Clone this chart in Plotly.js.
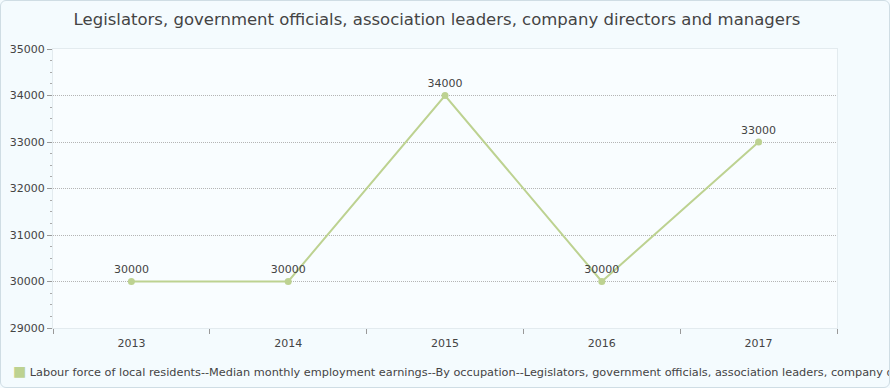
<!DOCTYPE html>
<html>
<head>
<meta charset="utf-8">
<script src="https://cdn.plot.ly/plotly-3.0.1.min.js"></script>
<style>
  html, body { margin: 0; padding: 0; background: #ffffff; }
  #wrap { position: relative; width: 890px; height: 388px; }
  #chart { width: 890px; height: 388px; }
  #frame { position: absolute; left: 0; top: 0; width: 888px; height: 386px; border: 1px solid #cfdde4; border-radius: 6px; pointer-events: none; }
</style>
</head>
<body>
<div id="wrap">
  <div id="chart"></div>
  <div id="frame"></div>
</div>
<script>
const years = ["2013", "2014", "2015", "2016", "2017"];
const earnings = [30000, 30000, 34000, 30000, 33000];
const seriesName = "Labour force of local residents--Median monthly employment earnings--By occupation--Legislators, government officials, association leaders, company directors and managers";
const chartTitle = "Legislators, government officials, association leaders, company directors and managers";
const lineColor = "#bdd291";
const textColor = "#444444";
const fontFamily = "DejaVu Sans, Verdana, sans-serif";

const traces = [
  {
    type: "scatter",
    mode: "lines+markers+text",
    x: years,
    y: earnings,
    name: seriesName,
    text: earnings.map(String),
    textposition: "top center",
    textfont: { family: fontFamily, size: 11, color: textColor },
    line: { color: lineColor, width: 2 },
    marker: { color: lineColor, size: 7 },
    showlegend: false,
    cliponaxis: false,
    hoverinfo: "x+y"
  }
];

const layout = {
  width: 890,
  height: 388,
  margin: { l: 53, r: 53, t: 49, b: 60, autoexpand: false },
  paper_bgcolor: "#f4fbfe",
  plot_bgcolor: "#f9fdff",
  font: { family: fontFamily, size: 11, color: textColor },
  title: {
    text: chartTitle,
    font: { family: fontFamily, size: 16.5, color: textColor },
    x: 0.491, xanchor: "center",
    y: 0.95, yanchor: "middle"
  },
  xaxis: {
    type: "category",
    range: [-0.5, 4.5],
    tickson: "boundaries",
    ticks: "outside",
    ticklen: 5,
    tickcolor: "#999999",
    ticklabelstandoff: 5,
    showgrid: false,
    showline: true,
    linecolor: "#e3ebef",
    mirror: true,
    zeroline: false,
    tickfont: { family: fontFamily, size: 11, color: textColor }
  },
  yaxis: {
    range: [29000, 35000],
    dtick: 1000,
    tick0: 29000,
    ticks: "outside",
    ticklen: 5,
    tickcolor: "#999999",
    showgrid: true,
    gridcolor: "#b5b5b5",
    griddash: "1px,1px",
    gridwidth: 1,
    showline: true,
    linecolor: "#e3ebef",
    mirror: true,
    zeroline: false,
    tickformat: "d",
    tickfont: { family: fontFamily, size: 11, color: textColor },
    minor: { dtick: 250, ticks: "outside", ticklen: 2, tickcolor: "#aaaaaa", showgrid: false }
  },
  annotations: [
    {
      xref: "paper", yref: "paper",
      x: -0.0535, xanchor: "left",
      y: -0.154, yanchor: "middle",
      showarrow: false,
      align: "left",
      text: '<span style="color:' + lineColor + ';font-size:14px">■</span> ' + seriesName,
      font: { family: fontFamily, size: 11.3, color: textColor }
    }
  ],
  showlegend: false
};

Plotly.newPlot("chart", traces, layout, { displayModeBar: false, staticPlot: true });
</script>
</body>
</html>
